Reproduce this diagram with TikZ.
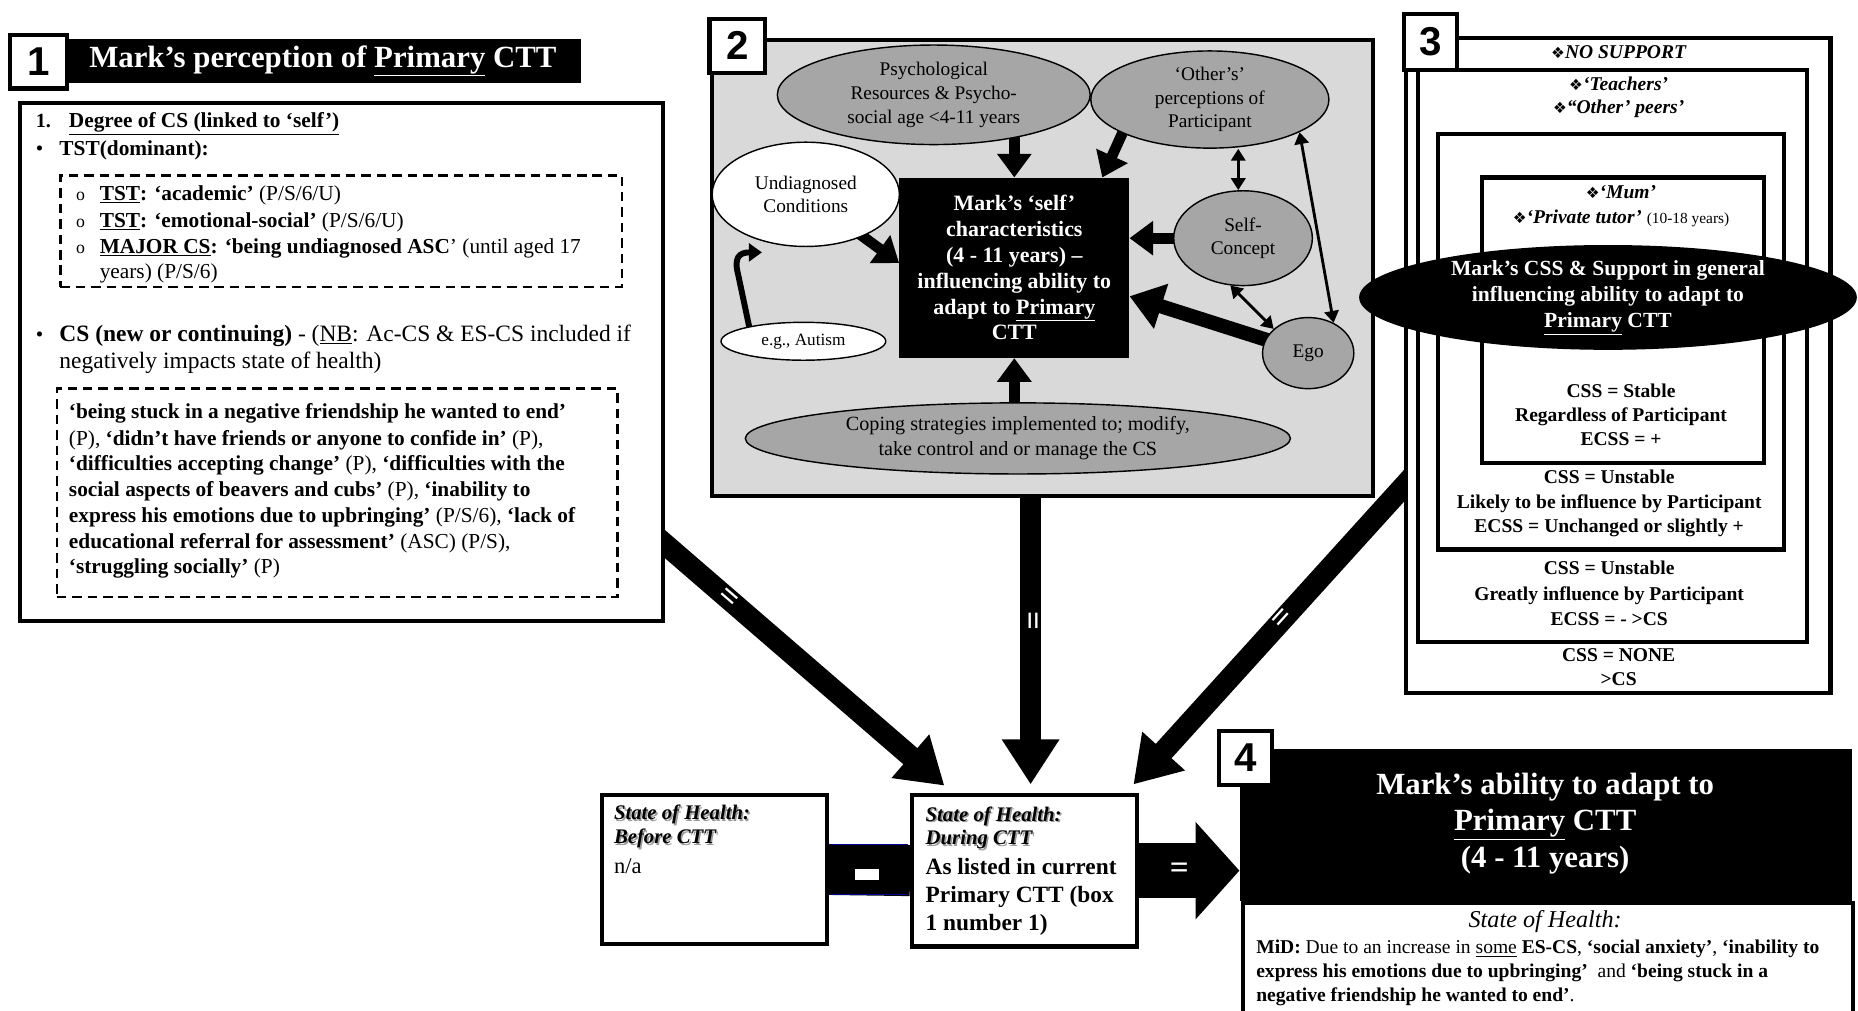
\documentclass[tikz,border=0pt]{standalone}
\usepackage{fontspec}
\setmainfont{Liberation Serif}
\newfontfamily\numfont{Liberation Sans}
\newfontfamily\symfont{DejaVu Sans}
\usetikzlibrary{arrows.meta,shapes.geometric,calc}
\pgfdeclarelayer{lower}\pgfdeclarelayer{mid}\pgfdeclarelayer{upper}
\pgfsetlayers{lower,main,mid,upper}
\definecolor{panelgrey}{RGB}{217,217,217}
\definecolor{ellgrey}{RGB}{166,166,166}
\newcommand{\fsz}[2]{\fontsize{#1}{#2}\selectfont}
\newcommand{\dmd}{{\symfont\fontsize{13}{13}\selectfont ❖}}
\newcommand{\shd}[1]{\makebox[0pt][l]{\hspace{1.3pt}\raisebox{-1.3pt}{\textcolor{black!40}{#1}}}#1}
\begin{document}
\begin{tikzpicture}[x=1pt,y=-1pt,
 frame/.style={draw,line width=3.5pt,fill=white,inner sep=0pt,anchor=north west},
 numbox/.style={draw,line width=3.5pt,fill=white,inner sep=0pt,anchor=north west,font=\numfont\bfseries\fsz{34}{34}},
 dashbox/.style={draw,line width=2pt,dash pattern=on 8pt off 5pt,inner sep=0pt,anchor=north west},
 ellg/.style={ellipse,draw,line width=1.2pt,fill=ellgrey,inner sep=0pt,align=center,font=\fsz{16.3}{20}},
 ellw/.style={ellg,fill=white},
 tx/.style={anchor=base west,inner sep=0pt},
 txc/.style={anchor=center,inner sep=0pt,align=center},
 bigarr/.style={line width=18pt,-{Triangle[length=38pt,width=46pt]}},
 medarr/.style={line width=9pt,-{Triangle[length=20pt,width=28pt]}},
 dblarr/.style={line width=2.4pt,{Triangle[length=10pt,width=12pt]}-{Triangle[length=10pt,width=12pt]}},
 eqmark/.style={text=white,font=\bfseries\fsz{28}{28},sloped,inner sep=0pt}
]
\useasboundingbox (0,0) rectangle (1568,853);
\begin{pgfonlayer}{lower}
\fill[white] (0,0) rectangle (1568,853);
\end{pgfonlayer}

% ---------- Box 1 ----------
\node[fill=black,text=white,inner sep=0pt,minimum width=435pt,minimum height=37pt,font=\bfseries\fsz{26}{26}] (h1) at (272.5,51.5) {Mark's perception of \underline{Primary} CTT};
\node[numbox,minimum width=48pt,minimum height=45pt] (n1) at (7,28) {1};
\node[frame,minimum width=543pt,minimum height=437pt] (b1) at (15,85) {};
\node[dashbox,minimum width=474pt,minimum height=94pt] (d1) at (50,147) {};
\node[dashbox,minimum width=473pt,minimum height=176pt] (d2) at (47,327) {};

\node[tx,font=\bfseries\fsz{17}{17}] (t1a) at (30,108) {1.};
\node[tx,font=\bfseries\fsz{18}{18}] (t1b) at (58,108) {\underline{Degree of CS (linked to `self')}};
\node[tx,font=\fsz{18}{18}] (t2a) at (30,131) {\textbullet};
\node[tx,font=\bfseries\fsz{18}{18}] (t2b) at (50,131) {TST(dominant):};
\node[tx,font=\fsz{15}{15}] (o1) at (64,169) {o};
\node[tx,font=\fsz{15}{15}] (o2) at (64,192) {o};
\node[tx,font=\fsz{15}{15}] (o3) at (64,214) {o};
\node[tx,font=\fsz{18}{18}] (t3) at (84,169) {\textbf{\underline{TST}: `academic'} (P/S/6/U)};
\node[tx,font=\fsz{18}{18}] (t4) at (84,192) {\textbf{\underline{TST}: `emotional-social'} (P/S/6/U)};
\node[tx,font=\fsz{18}{18}] (t5) at (84,214) {\textbf{\underline{MAJOR CS}: `being undiagnosed ASC}' (until aged 17};
\node[tx,font=\fsz{18}{18}] (t6) at (84,235) {years) (P/S/6)};
\node[tx,font=\fsz{18}{18}] (t7a) at (30,288) {\textbullet};
\node[tx,font=\fsz{19.8}{19.8}] (t7) at (50,288) {\textbf{CS (new or continuing)} - (\underline{NB}: Ac-CS \& ES-CS included if};
\node[tx,font=\fsz{19.8}{19.8}] (t8) at (50,311) {negatively impacts state of health)};
\node[tx,font=\fsz{18}{18}] (u1) at (58,353) {\textbf{`being stuck in a negative friendship he wanted to end'}};
\node[tx,font=\fsz{18}{18}] (u2) at (58,376) {(P), \textbf{`didn't have friends or anyone to confide in'} (P),};
\node[tx,font=\fsz{18}{18}] (u3) at (58,397) {\textbf{`difficulties accepting change'} (P), \textbf{`difficulties with the}};
\node[tx,font=\fsz{18}{18}] (u4) at (58,419) {\textbf{social aspects of beavers and cubs'} (P), \textbf{`inability to}};
\node[tx,font=\fsz{18}{18}] (u5) at (58,441) {\textbf{express his emotions due to upbringing'} (P/S/6), \textbf{`lack of}};
\node[tx,font=\fsz{18}{18}] (u6) at (58,463) {\textbf{educational referral for assessment'} (ASC) (P/S),};
\node[tx,font=\fsz{18}{18}] (u7) at (58,484) {\textbf{`struggling socially'} (P)};

% ---------- Box 2 ----------
\node[frame,fill=panelgrey,minimum width=558pt,minimum height=385pt] (p2) at (599,32) {};
\node[numbox,minimum width=47pt,minimum height=46pt] (n2) at (597,14) {2};
\begin{pgfonlayer}{upper}
\node[ellg,minimum width=264pt,minimum height=84pt] (psych) at (788,80) {Psychological\\Resources \& Psycho-\\social age <4-11 years};
\node[ellg,minimum width=201pt,minimum height=82pt] (others) at (1021,84) {`Other's'\\perceptions of\\Participant};
\node[ellw,minimum width=158pt,minimum height=88pt] (undiag) at (680,164) {Undiagnosed\\Conditions};
\node[ellw,minimum width=139pt,minimum height=32pt,font=\fsz{14.5}{16}] (autism) at (678,288) {e.g., Autism};
\node[fill=black,text=white,minimum width=194pt,minimum height=152pt,inner sep=0pt,align=center,font=\bfseries\fsz{18.5}{21.8}] (selfbox) at (856,226) {Mark's `self'\\characteristics\\(4 - 11 years) --\\influencing ability to\\adapt to \underline{Primary}\\CTT};
\node[ellg,minimum width=117pt,minimum height=80pt] (selfcon) at (1049,201) {Self-\\Concept};
\node[ellg,minimum width=77pt,minimum height=60pt] (ego) at (1104,298) {Ego};
\node[ellg,minimum width=460pt,minimum height=60pt,font=\fsz{17}{21}] (coping) at (859,370) {Coping strategies implemented to; modify,\\take control and or manage the CS};
\draw[dblarr] ($(others.south)+(24,0)$) -- ($(selfcon.north)+(-4,0)$);
\draw[dblarr] (selfcon.255) -- (ego.145);
\draw[dblarr] (others.-20) -- (ego.50);
\end{pgfonlayer}
\begin{pgfonlayer}{mid}
\draw[medarr] ($(selfbox.north)+(0,-45)$) -- (selfbox.north);
\draw[medarr] ($(others.center)+(-70,20)$) -- ($(selfbox.north east)+(-23,0)$);
\draw[medarr] ($(undiag.center)+(20,15)$) -- ($(selfbox.west)+(0,-4)$);
\draw[medarr] (selfcon.center) -- ($(selfbox.east)+(0,-25)$);
\draw[line width=12pt,-{Triangle[length=28pt,width=38pt]}] (ego.center) -- ($(selfbox.east)+(0,24)$);
\draw[medarr] ($(selfbox.south)+(0,45)$) -- (selfbox.south);
\coordinate (autend) at (643,213);
\draw[line width=5pt,-{Triangle[length=11pt,width=15pt]}] ($(autism.center)+(-44,-4)$) -- (623,232) .. controls (619,217) and (624,213) .. (autend);
\end{pgfonlayer}

% ---------- Box 3 ----------
\node[frame,minimum width=358pt,minimum height=553pt] (b3a) at (1185,30) {};
\node[frame,minimum width=328pt,minimum height=483pt] (b3b) at (1195,57) {};
\node[frame,minimum width=292pt,minimum height=351pt] (b3c) at (1212,111) {};
\node[frame,minimum width=238pt,minimum height=241pt] (b3d) at (1249,148) {};
\node[numbox,minimum width=45pt,minimum height=47pt] (n3) at (1183,10) {3};
\node[txc,font=\bfseries\itshape\fsz{16.5}{20}] (s0) at (1366,44) {\dmd NO SUPPORT};
\node[txc,font=\bfseries\itshape\fsz{16.5}{20}] (s1) at (1366,82) {\dmd`Teachers'\\\dmd``Other' peers'};
\node[txc,font=\bfseries\itshape\fsz{16.5}{21}] (s2) at (1368,174) {\dmd`Mum'\\\dmd`Private tutor' {\normalfont\fsz{13}{14}(10-18 years)}};
\node[ellipse,fill=black,minimum width=420pt,minimum height=88pt,inner sep=0pt,text=white,align=center,font=\bfseries\fsz{18.2}{22}] (css) at (1357,251) {Mark's CSS \& Support in general\\influencing ability to adapt to\\\underline{Primary} CTT};
\node[txc,font=\bfseries\fsz{16.5}{20}] (s3) at (1368,350) {CSS = Stable\\Regardless of Participant\\ECSS = +};
\node[txc,font=\bfseries\fsz{16.5}{20.5}] (s4) at (1358,425) {CSS = Unstable\\Likely to be influence by Participant\\ECSS = Unchanged or slightly +};
\node[txc,font=\bfseries\fsz{16.5}{21.5}] (s5) at (1358,501) {CSS = Unstable\\Greatly influence by Participant\\ECSS = - >CS};
\node[txc,font=\bfseries\fsz{16.5}{20}] (s6) at (1366,563) {CSS = NONE\\>CS};

% ---------- State of health boxes ----------
\node[frame,minimum width=190pt,minimum height=126pt] (before) at (506,669) {};
\node[frame,minimum width=190pt,minimum height=128pt] (during) at (768,669) {};
\node[tx,font=\bfseries\itshape\fsz{17.5}{17.5}] (bt1) at (518,692) {\shd{State of Health:}};
\node[tx,font=\bfseries\itshape\fsz{17.5}{17.5}] (bt2) at (518,712) {\shd{Before CTT}};
\node[tx,font=\fsz{19}{19}] (bt3) at (518,737) {n/a};
\node[tx,font=\bfseries\itshape\fsz{17.5}{17.5}] (dt1) at (781,693) {\shd{State of Health:}};
\node[tx,font=\bfseries\itshape\fsz{17.5}{17.5}] (dt2) at (781,713) {\shd{During CTT}};
\node[tx,font=\bfseries\fsz{19.7}{19.7}] (dt3) at (781,738) {As listed in current};
\node[tx,font=\bfseries\fsz{19.7}{19.7}] (dt4) at (781,762) {Primary CTT (box};
\node[tx,font=\bfseries\fsz{19.7}{19.7}] (dt5) at (781,785) {1 number 1)};

\draw[line width=43pt] (before.east) -- (during.west);
\draw[blue!60!black,line width=0.8pt] ($(before.east)+(2,-21.5)$) -- ($(during.west)+(-2,-22.5)$);
\draw[blue!60!black,line width=0.8pt] ($(before.east)+(2,21.5)$) -- ($(during.west)+(-2,20.5)$);
\node[fill=white,minimum width=20pt,minimum height=9pt,inner sep=0pt] (minus) at ($(before.east)!0.47!(during.west)+(0,4)$) {};

% ---------- Box 4 ----------
\node[fill=black,anchor=north west,minimum width=517pt,minimum height=128pt,inner sep=0pt] (b4) at (1046,632) {};
\node[txc,text=white,font=\bfseries\fsz{26}{31}] (b4t) at (1304,695) {Mark's ability to adapt to\\\underline{Primary} CTT\\(4 - 11 years)};
\node[frame,minimum width=515pt,minimum height=100pt] (b4w) at (1047,760) {};
\node[txc,font=\itshape\fsz{20.4}{20.4}] (b4h) at (1304,778) {State of Health:};
\node[tx,font=\fsz{16.5}{16.5}] (m1) at (1060,805) {\textbf{MiD:} Due to an increase in \underline{some} \textbf{ES-CS}, \textbf{`social anxiety'}, \textbf{`inability to}};
\node[tx,font=\fsz{16.5}{16.5}] (m2) at (1060,825) {\textbf{express his emotions due to upbringing'}\ \ and \textbf{`being stuck in a}};
\node[tx,font=\fsz{16.5}{16.5}] (m3) at (1060,845) {\textbf{negative friendship he wanted to end'}.};
\node[numbox,minimum width=45pt,minimum height=46pt] (n4) at (1027,615) {4};

\draw[line width=46pt,-{Triangle[length=37pt,width=80pt]}] (during.east) -- (during.east -| b4.west) node[pos=0.4,text=white,font=\bfseries\fsz{28}{28},inner sep=0pt] (eq4) {=};

% ---------- Big arrows ----------
\begin{pgfonlayer}{lower}
\draw[bigarr] ($(b1.south east)+(-15,-79)$) -- ($(during.north west)+(29,-6)$) node[eqmark,pos=0.27] (eq1) {=};
\draw[bigarr] ($(p2.south)+(-10,-10)$) -- ($(during.north)+(5,-7)$) node[eqmark,pos=0.45] (eq2) {=};
\draw[bigarr] ($(b3a.west)+(15,85)$) -- ($(during.north east)+(-5,-7)$) node[eqmark,pos=0.48] (eq3) {=};
\end{pgfonlayer}
\end{tikzpicture}
\end{document}
